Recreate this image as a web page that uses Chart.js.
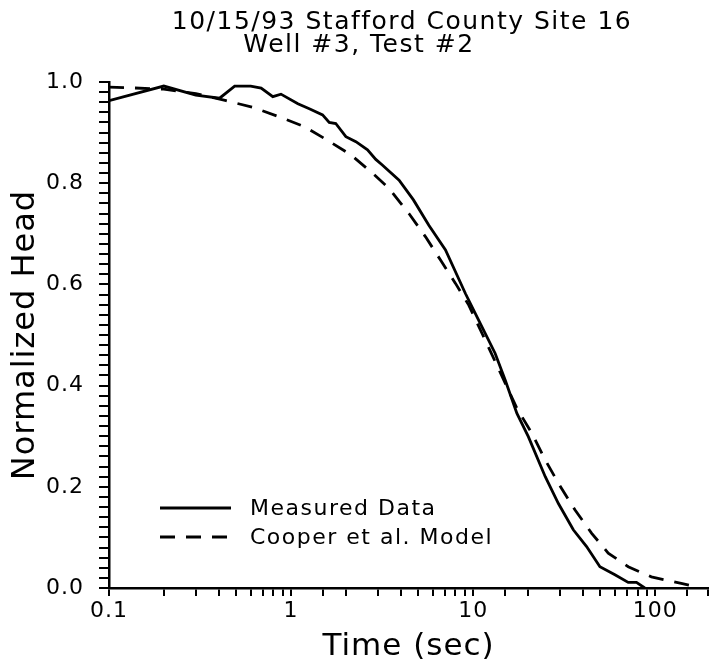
<!DOCTYPE html>
<html>
<head>
<meta charset="utf-8">
<script src="https://cdn.jsdelivr.net/npm/chart.js@4.4.1/dist/chart.umd.min.js"></script>
<style>
  body { margin: 0; background: #fff; }
  canvas { display: block; }
</style>
</head>
<body>
<canvas id="myChart" width="710" height="662"></canvas>
<script>
// values (time in sec, normalized head)
const titleLines = ['10/15/93 Stafford County Site 16', 'Well #3, Test #2'];
const seriesNames = ['Measured Data', 'Cooper et al. Model'];

const timeMeasured = [0.1, 0.2, 0.3, 0.405, 0.49, 0.6, 0.685, 0.794, 0.88, 1.09, 1.26, 1.49, 1.62, 1.76,
  2.0, 2.27, 2.63, 2.92, 3.17, 3.92, 4.7, 5.71, 7.05, 9.07, 10.7, 13.2, 15.0, 17.4, 20.1, 24.9, 29.4,
  35.5, 42.0, 49.7, 60.1, 71.1, 78.9, 87.7];
const headMeasured = [0.963, 0.992, 0.974, 0.968, 0.992, 0.992, 0.988, 0.971, 0.976, 0.957, 0.947, 0.935, 0.920, 0.918,
  0.892, 0.882, 0.866, 0.847, 0.836, 0.806, 0.767, 0.717, 0.668, 0.582, 0.530, 0.464, 0.411, 0.345, 0.299, 0.220, 0.167,
  0.115, 0.082, 0.042, 0.026, 0.011, 0.011, 0.0];

const timeModel = [0.1, 0.2, 0.3, 0.44, 0.617, 0.863, 1.18, 1.585, 2.13, 2.8, 3.45, 4.44, 5.48, 6.62, 8.0,
  9.46, 11.2, 15.0, 17.4, 21.0, 24.9, 29.4, 36.3, 44.8, 55.2, 71.1, 95.3, 139, 175];
const headModel = [0.99, 0.986, 0.977, 0.963, 0.950, 0.931, 0.912, 0.885, 0.856, 0.820, 0.790, 0.740, 0.694, 0.648, 0.602,
  0.559, 0.503, 0.405, 0.355, 0.306, 0.253, 0.207, 0.154, 0.108, 0.069, 0.042, 0.022, 0.009, 0.001];

const xTickLabels = ['0.1', '1', '10', '100'];
const yTickLabels = ['0.0', '0.2', '0.4', '0.6', '0.8', '1.0'];

const FONT = "'DejaVu Sans', sans-serif";
const ctx = document.getElementById('myChart').getContext('2d');

function findLabel(list, v) {
  const hit = list.find(l => Math.abs(parseFloat(l) - v) < 1e-6 * Math.max(1, v));
  return hit === undefined ? '' : hit;
}

// the old plotter font is wide, so open the letters up a little
const spacingPlugin = {
  id: 'wideText',
  beforeLayout(chart) { chart.ctx.letterSpacing = '1px'; },
  beforeDraw(chart) { chart.ctx.letterSpacing = '1px'; }
};

const titlePlugin = {
  id: 'twoLineTitle',
  afterDraw(chart) {
    const c = chart.ctx, a = chart.chartArea;
    c.save();
    c.fillStyle = '#000';
    c.font = '25px ' + FONT;
    c.letterSpacing = '1.5px';
    c.textAlign = 'center';
    c.textBaseline = 'middle';
    c.fillText(titleLines[0], 402, a.top - 60);
    c.fillText(titleLines[1], 359, a.top - 37);
    c.restore();
  }
};

const legendPlugin = {
  id: 'insideLegend',
  afterDraw(chart) {
    const c = chart.ctx, a = chart.chartArea;
    c.save();
    c.font = '22px ' + FONT;
    c.letterSpacing = '1.5px';
    c.textBaseline = 'middle';
    c.fillStyle = '#000';
    chart.data.datasets.forEach((ds, i) => {
      const y = a.top + 426 + i * 29;
      c.strokeStyle = '#000';
      c.lineWidth = ds.borderWidth;
      c.setLineDash(ds.borderDash || []);
      c.beginPath();
      c.moveTo(a.left + 51, y);
      c.lineTo(a.left + 122, y);
      c.stroke();
      c.setLineDash([]);
      c.fillText(ds.label, a.left + 141, y + 1);
    });
    c.restore();
  }
};

new Chart(ctx, {
  type: 'line',
  data: {
    datasets: [{
      label: seriesNames[0],
      data: timeMeasured.map((t, i) => ({x: t, y: headMeasured[i]})),
      borderColor: '#000',
      borderWidth: 2.8,
      pointRadius: 0,
      tension: 0,
      fill: false
    }, {
      label: seriesNames[1],
      data: timeModel.map((t, i) => ({x: t, y: headModel[i]})),
      borderColor: '#000',
      borderWidth: 2.8,
      borderDash: [15, 11],
      pointRadius: 0,
      tension: 0,
      fill: false
    }]
  },
  options: {
    responsive: false,
    animation: false,
    layout: { padding: { top: 82, right: 0, left: 0, bottom: 0 } },
    plugins: {
      legend: { display: false },
      title: { display: false },
      tooltip: { enabled: false }
    },
    scales: {
      x: {
        type: 'logarithmic',
        min: 0.1,
        max: 195,
        afterFit(scale) { scale.height = 74; },
        border: { color: '#000', width: 2.5 },
        grid: { drawOnChartArea: false, drawTicks: true, tickLength: 8, color: '#000', lineWidth: 2 },
        ticks: {
          autoSkip: false,
          maxRotation: 0,
          padding: 2,
          color: '#000',
          font: { family: FONT, size: 22 },
          callback: (v) => findLabel(xTickLabels, v)
        },
        title: {
          display: true,
          text: 'Time (sec)',
          color: '#000',
          font: { family: FONT, size: 31, lineHeight: 1.0 },
          padding: 0
        }
      },
      y: {
        min: 0,
        max: 1,
        afterFit(scale) { scale.width = 109; },
        border: { color: '#000', width: 2.5 },
        grid: { drawOnChartArea: false, drawTicks: true, tickLength: 10, color: '#000', lineWidth: 2 },
        ticks: {
          stepSize: 0.02,
          autoSkip: false,
          padding: 15,
          color: '#000',
          font: { family: FONT, size: 22 },
          callback: (v) => findLabel(yTickLabels, v)
        },
        title: {
          display: true,
          text: 'Normalized Head',
          color: '#000',
          font: { family: FONT, size: 32 },
          padding: { top: 6, bottom: 0 }
        }
      }
    }
  },
  plugins: [spacingPlugin, titlePlugin, legendPlugin]
});
</script>
</body>
</html>
